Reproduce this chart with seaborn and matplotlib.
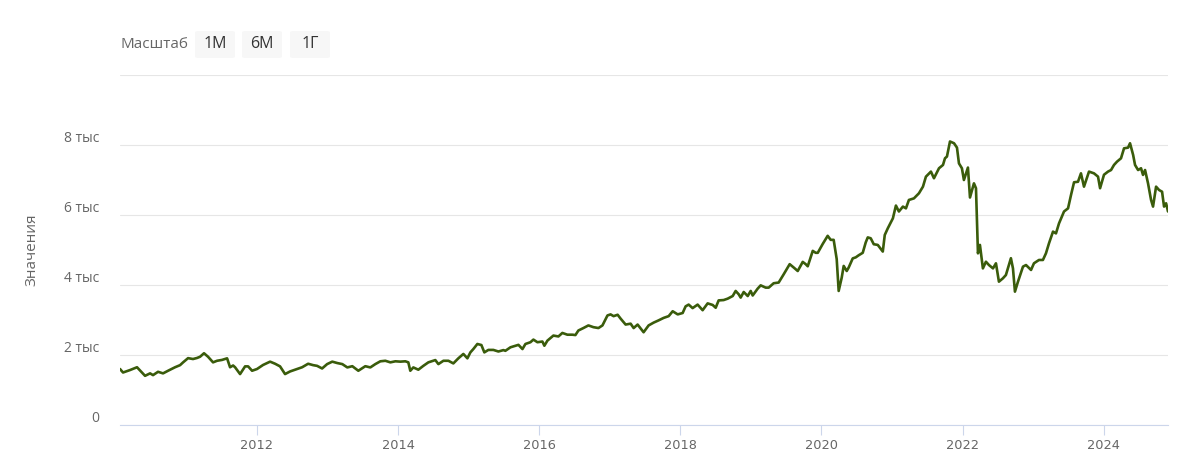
import matplotlib
matplotlib.use("Agg")
import matplotlib.pyplot as plt
import matplotlib.transforms as mtransforms
from matplotlib.patches import FancyBboxPatch
import seaborn as sns
import pandas as pd

# ---- data ----
years = [
    2010.061, 2010.104, 2010.203, 2010.302, 2010.416, 2010.487, 2010.529, 2010.600, 2010.671, 2010.742,
    2010.841, 2010.912, 2010.955, 2011.026, 2011.096, 2011.153, 2011.196, 2011.252, 2011.309, 2011.380,
    2011.437, 2011.508, 2011.579, 2011.621, 2011.664, 2011.692, 2011.763, 2011.834, 2011.877, 2011.933,
    2012.004, 2012.089, 2012.189, 2012.260, 2012.330, 2012.401, 2012.472, 2012.572, 2012.643, 2012.728,
    2012.799, 2012.855, 2012.926, 2012.997, 2013.068, 2013.139, 2013.210, 2013.281, 2013.352, 2013.437,
    2013.536, 2013.607, 2013.678, 2013.749, 2013.820, 2013.891, 2013.962, 2014.033, 2014.104, 2014.146,
    2014.174, 2014.217, 2014.288, 2014.359, 2014.430, 2014.529, 2014.572, 2014.643, 2014.714, 2014.784,
    2014.855, 2014.926, 2014.983, 2015.026, 2015.068, 2015.125, 2015.182, 2015.224, 2015.281, 2015.352,
    2015.423, 2015.494, 2015.522, 2015.594, 2015.665, 2015.707, 2015.764, 2015.806, 2015.877, 2015.919,
    2015.976, 2016.047, 2016.075, 2016.118, 2016.203, 2016.274, 2016.330, 2016.401, 2016.472, 2016.515,
    2016.557, 2016.628, 2016.699, 2016.770, 2016.841, 2016.898, 2016.969, 2017.011, 2017.054, 2017.111,
    2017.153, 2017.224, 2017.295, 2017.338, 2017.394, 2017.479, 2017.550, 2017.621, 2017.692, 2017.763,
    2017.834, 2017.891, 2017.962, 2018.033, 2018.075, 2018.118, 2018.174, 2018.245, 2018.316, 2018.387,
    2018.458, 2018.501, 2018.543, 2018.614, 2018.671, 2018.742, 2018.784, 2018.827, 2018.855, 2018.898,
    2018.955, 2018.997, 2019.026, 2019.096, 2019.139, 2019.210, 2019.253, 2019.323, 2019.394, 2019.465,
    2019.522, 2019.550, 2019.607, 2019.664, 2019.735, 2019.777, 2019.806, 2019.877, 2019.919, 2019.948,
    2020.018, 2020.089, 2020.132, 2020.174, 2020.217, 2020.245, 2020.288, 2020.316, 2020.359, 2020.387,
    2020.444, 2020.487, 2020.529, 2020.586, 2020.628, 2020.657, 2020.699, 2020.742, 2020.799, 2020.870,
    2020.898, 2020.941, 2021.011, 2021.054, 2021.096, 2021.153, 2021.196, 2021.238, 2021.309, 2021.380,
    2021.437, 2021.479, 2021.550, 2021.593, 2021.664, 2021.721, 2021.749, 2021.777, 2021.820, 2021.877,
    2021.919, 2021.947, 2021.989, 2022.018, 2022.075, 2022.104, 2022.160, 2022.189, 2022.217, 2022.245,
    2022.287, 2022.330, 2022.373, 2022.430, 2022.472, 2022.514, 2022.570, 2022.613, 2022.684, 2022.713,
    2022.741, 2022.784, 2022.855, 2022.898, 2022.969, 2023.011, 2023.082, 2023.138, 2023.181, 2023.224,
    2023.281, 2023.323, 2023.366, 2023.437, 2023.494, 2023.536, 2023.579, 2023.635, 2023.677, 2023.720,
    2023.791, 2023.862, 2023.919, 2023.948, 2024.004, 2024.061, 2024.104, 2024.146, 2024.189, 2024.245,
    2024.288, 2024.345, 2024.373, 2024.417, 2024.444, 2024.487, 2024.529, 2024.557, 2024.586, 2024.628,
    2024.671, 2024.699, 2024.742, 2024.784, 2024.827, 2024.855, 2024.884, 2024.911,
]
values = [
    1600, 1500, 1570, 1650, 1405, 1475, 1425, 1520, 1475, 1550,
    1650, 1710, 1790, 1910, 1885, 1915, 1950, 2050, 1950, 1790,
    1835, 1860, 1905, 1650, 1700, 1650, 1455, 1675, 1675, 1550,
    1600, 1715, 1810, 1750, 1675, 1455, 1530, 1600, 1650, 1750,
    1710, 1690, 1615, 1740, 1810, 1770, 1740, 1645, 1680, 1550,
    1680, 1645, 1740, 1820, 1835, 1790, 1820, 1810, 1820, 1790,
    1550, 1645, 1580, 1690, 1790, 1855, 1740, 1835, 1835, 1760,
    1905, 2030, 1905, 2075, 2170, 2315, 2285, 2075, 2145, 2145,
    2100, 2140, 2120, 2220, 2265, 2290, 2170, 2315, 2365, 2440,
    2365, 2385, 2265, 2410, 2555, 2530, 2630, 2580, 2580, 2570,
    2700, 2770, 2845, 2795, 2770, 2845, 3130, 3160, 3110, 3150,
    3040, 2870, 2895, 2770, 2870, 2650, 2845, 2925, 2990, 3060,
    3110, 3250, 3160, 3200, 3390, 3440, 3340, 3440, 3280, 3475,
    3430, 3350, 3560, 3570, 3610, 3685, 3830, 3735, 3640, 3800,
    3685, 3830, 3700, 3895, 3990, 3925, 3925, 4050, 4070, 4305,
    4500, 4595, 4500, 4400, 4660, 4595, 4535, 4975, 4920, 4920,
    5170, 5405, 5290, 5290, 4740, 3830, 4210, 4545, 4400, 4500,
    4760, 4790, 4850, 4920, 5215, 5360, 5335, 5165, 5145, 4955,
    5430, 5620, 5905, 6270, 6100, 6240, 6190, 6430, 6475, 6620,
    6810, 7095, 7240, 7050, 7335, 7430, 7620, 7670, 8100, 8050,
    7925, 7475, 7335, 7000, 7355, 6500, 6905, 6765, 4905, 5145,
    4475, 4665, 4570, 4475, 4620, 4095, 4190, 4285, 4765, 4475,
    3810, 4095, 4525, 4570, 4430, 4620, 4715, 4715, 4905, 5190,
    5525, 5475, 5760, 6100, 6190, 6570, 6935, 6950, 7190, 6810,
    7240, 7190, 7095, 6765, 7150, 7240, 7285, 7430, 7525, 7620,
    7905, 7925, 8050, 7715, 7430, 7285, 7335, 7145, 7285, 6905,
    6430, 6240, 6810, 6715, 6665, 6240, 6335, 6100,
]
y_ticks = [0, 2000, 4000, 6000, 8000, 10000]
y_tick_labels = ["0", "2 тыс", "4 тыс", "6 тыс", "8 тыс", ""]
x_tick_years = [2012, 2014, 2016, 2018, 2020, 2022, 2024]
y_title = "Значения"
range_label = "Масштаб"
range_buttons = ["1М", "6М", "1Г"]


def to_date(y):
    base = pd.Timestamp(int(y), 1, 1)
    return base + pd.Timedelta(days=(y - int(y)) * 365.25)


df = pd.DataFrame({"date": [to_date(y) for y in years], "value": values})

sns.set_theme(style="white")
plt.rcParams["font.family"] = ["Open Sans", "DejaVu Sans"]

W, H = 1200, 475
fig = plt.figure(figsize=(W / 100, H / 100), dpi=100)
fig.patch.set_facecolor("white")
ax = fig.add_axes([120 / W, 50 / H, 1048 / W, 350 / H])

sns.lineplot(data=df, x="date", y="value", ax=ax, color="#3a5c0b",
             linewidth=1.9, zorder=3)

ax.set_xlim(df["date"].iloc[0], df["date"].iloc[-1])
ax.set_ylim(0, 10000)
ax.set_yticks(y_ticks)
ax.set_yticklabels(y_tick_labels)
ax.set_xticks([pd.Timestamp(y, 1, 1) for y in x_tick_years])
ax.set_xticklabels([str(y) for y in x_tick_years], family="DejaVu Sans")
ax.set_xlabel("")
ax.set_ylabel("")

ax.yaxis.grid(True, color="#e6e6e6", linewidth=0.8, zorder=0)
ax.xaxis.grid(False)
for s in ["top", "right", "left"]:
    ax.spines[s].set_visible(False)
ax.spines["bottom"].set_color("#ccd6eb")
ax.spines["bottom"].set_linewidth(0.8)
ax.spines["bottom"].set_zorder(4)

ax.tick_params(axis="x", bottom=True, length=7, width=0.8, color="#ccd6eb",
               labelcolor="#666666", labelsize=9.3, pad=3, direction="out")
ax.tick_params(axis="y", left=False, length=0, pad=15, labelcolor="#666666",
               labelsize=10)

offset = mtransforms.ScaledTranslation(0, 0.08, fig.dpi_scale_trans)
for lbl in ax.get_yticklabels():
    lbl.set_transform(lbl.get_transform() + offset)

# y axis title
fig.text(32 / W, 1 - 250 / H, y_title, rotation=90, ha="center", va="center",
         color="#666666", fontsize=11)

# range selector
fig.text(120 / W, 1 - 44 / H, range_label, ha="left", va="center",
         color="#666666", fontsize=11)
btn_left = [195, 242, 290]
for left, label in zip(btn_left, range_buttons):
    box = FancyBboxPatch((left / W, 1 - 58 / H), 40 / W, 27 / H,
                         boxstyle="round,pad=0,rounding_size=0.003",
                         transform=fig.transFigure, facecolor="#f7f7f7",
                         edgecolor="none")
    fig.patches.append(box)
    fig.text((left + 20) / W, 1 - 44 / H, label, ha="center", va="center",
             color="#333333", fontsize=11.5)

fig.savefig("out.png", dpi=100, facecolor="white")
